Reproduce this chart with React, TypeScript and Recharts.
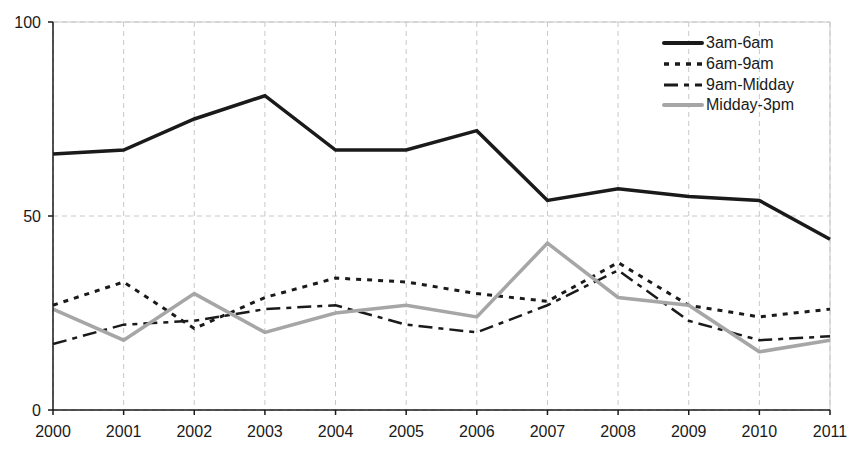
import React from "react";
import { LineChart, Line, XAxis, YAxis, CartesianGrid, ReferenceLine } from "recharts";

const years = [2000, 2001, 2002, 2003, 2004, 2005, 2006, 2007, 2008, 2009, 2010, 2011];
const s3to6 = [66, 67, 75, 81, 67, 67, 72, 54, 57, 55, 54, 44];
const s6to9 = [27, 33, 21, 29, 34, 33, 30, 28, 38, 27, 24, 26];
const s9toMid = [17, 22, 23, 26, 27, 22, 20, 27, 36, 23, 18, 19];
const sMidto3 = [26, 18, 30, 20, 25, 27, 24, 43, 29, 27, 15, 18];
const yTicks = [0, 50, 100];

const seriesNames = ["3am-6am", "6am-9am", "9am-Midday", "Midday-3pm"];

const data = years.map((y, i) => ({
  year: y,
  a: s3to6[i],
  b: s6to9[i],
  c: s9toMid[i],
  d: sMidto3[i],
}));

const styles = [
  { key: "a", stroke: "#1a1a1a", width: 3.5, dash: undefined as string | undefined },
  { key: "b", stroke: "#1a1a1a", width: 3, dash: "5 6" },
  { key: "c", stroke: "#1a1a1a", width: 2.5, dash: "14 6 5 6" },
  { key: "d", stroke: "#a6a6a6", width: 3.5, dash: undefined as string | undefined },
];

const font = "Liberation Sans, Arial, sans-serif";

const LegendBox = () => (
  <div style={{ position: "absolute", left: 662, top: 33, fontFamily: font, fontSize: 16, color: "#1a1a1a" }}>
    {styles.map((s, i) => (
      <div key={s.key} style={{ display: "flex", alignItems: "center", height: 20.7 }}>
        <svg width={42} height={10} style={{ display: "block" }}>
          <line x1={2} y1={5} x2={40} y2={5} stroke={s.stroke} strokeWidth={s.width + 0.5}
            strokeDasharray={s.dash} strokeLinecap={s.dash ? "butt" : "round"} />
        </svg>
        <span style={{ marginLeft: 2, lineHeight: "16px" }}>{seriesNames[i]}</span>
      </div>
    ))}
  </div>
);

export default function App() {
  return (
    <div style={{ position: "absolute", left: 0, top: 0, width: 860, height: 459, background: "#fff" }}>
      <LineChart width={860} height={459} data={data}
        margin={{ top: 22, right: 30, bottom: 19, left: 0 }}>
        <CartesianGrid stroke="#c8c8c8" strokeDasharray="5 4" strokeWidth={1} />
        <ReferenceLine y={100} stroke="#c8c8c8" strokeWidth={1} />
        <ReferenceLine x={2011} stroke="#c8c8c8" strokeWidth={1} />
        <XAxis dataKey="year" type="number" domain={[2000, 2011]} ticks={years}
          interval={0} allowDecimals={false} height={30}
          axisLine={{ stroke: "#1a1a1a", strokeWidth: 1.5 }}
          tickLine={{ stroke: "#1a1a1a", strokeWidth: 1.5 }}
          tickSize={5} tickMargin={11}
          tick={{ fill: "#1a1a1a", fontSize: 16, fontFamily: font }} />
        <YAxis domain={[0, 100]} ticks={yTicks} width={53}
          axisLine={{ stroke: "#1a1a1a", strokeWidth: 1.5 }}
          tickLine={{ stroke: "#1a1a1a", strokeWidth: 1.5 }}
          tickSize={5} tickMargin={7}
          tick={{ fill: "#1a1a1a", fontSize: 16, fontFamily: font }} />
        {styles.map((s, i) => (
          <Line key={s.key} dataKey={s.key} name={seriesNames[i]} type="linear"
            stroke={s.stroke} strokeWidth={s.width} strokeDasharray={s.dash}
            dot={false} activeDot={false} isAnimationActive={false} />
        ))}
      </LineChart>
      <LegendBox />
    </div>
  );
}
